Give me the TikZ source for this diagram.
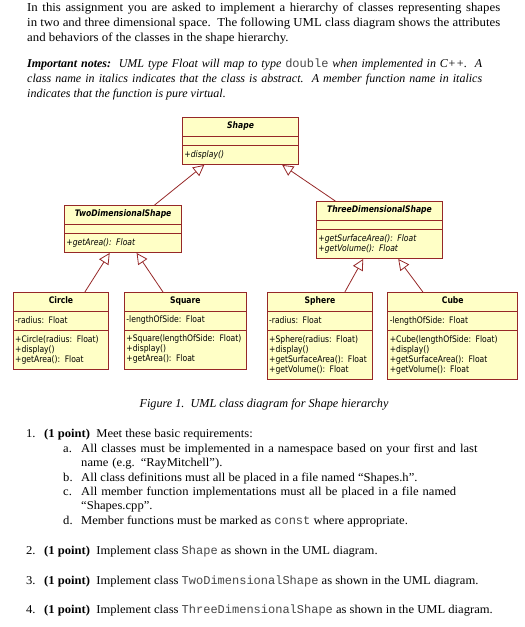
\documentclass[tikz,border=0pt]{standalone}
\usepackage{fontspec}
\setmainfont{Liberation Serif}
\setmonofont{Liberation Mono}
\newfontfamily\listfont{Liberation Serif}[FakeStretch=1.05]
\newfontfamily\umlfont{DejaVu Sans}[FakeStretch=0.85]
\usetikzlibrary{shapes.multipart, arrows.meta, positioning, calc}
\definecolor{umlfill}{RGB}{255, 255, 198}
\definecolor{umlline}{RGB}{150, 40, 40}
\definecolor{codegray}{RGB}{70, 70, 70}
\newcommand{\code}[1]{{\upshape\ttfamily\color{codegray}#1}}
\newcommand{\clsname}[1]{\makebox[\linewidth][c]{\rule[-3.5pt]{0pt}{8.5pt}\textbf{#1}}}

\begin{document}
\begin{tikzpicture}[x=1pt, y=-1pt,
  cls/.style={rectangle split, rectangle split parts=3, draw=umlline, fill=umlfill,
    line width=0.9pt, inner xsep=2pt, inner ysep=4pt, anchor=north west, align=left,
    font=\umlfont\fontsize{9}{10}\selectfont, rectangle split empty part height=0pt},
  gen/.style={-{Triangle[open, length=11pt, width=11pt, fill=white]}, umlline, line width=0.8pt},
  txt/.style={anchor=base west, inner sep=0pt, align=left, font=\listfont\fontsize{12}{14.3}\selectfont}
]
  \useasboundingbox (0,0) rectangle (525,627);

  % text above the diagram
  \node[txt, text width=473pt, align=justify, font=\listfont\fontsize{12.2}{15}\selectfont] (intro) at (27,11)
    {In this assignment you are asked to implement a hierarchy of classes representing shapes\linebreak
     in two and three dimensional space.\ \ The following UML class diagram shows the attributes\linebreak
     and behaviors of the classes in the shape hierarchy.};
  \node[txt, text width=455pt, align=justify, font=\rmfamily\itshape\fontsize{12}{15}\selectfont] (notes) at (27,67)
    {\textbf{Important notes:}\ \ UML type Float will map to type \code{double} when implemented in C++.\ \ A\linebreak
     class name in italics indicates that the class is abstract.\ \ A member function name in italics\linebreak
     indicates that the function is pure virtual.};

  % class boxes
  \node[cls, text width=112.3pt] (shape) at (182,117)
    {\clsname{\textit{Shape}}
     \nodepart{two}
     \nodepart{three}\strut\textit{+display()}\strut};
  \node[cls, text width=113.4pt] (twod) at (64,205)
    {\clsname{\textit{TwoDimensionalShape}}
     \nodepart{two}
     \nodepart{three}\strut\textit{+getArea(): Float}\strut};
  \node[cls, text width=122pt] (threed) at (316,201)
    {\clsname{\textit{ThreeDimensionalShape}}
     \nodepart{two}
     \nodepart{three}\strut\textit{+getSurfaceArea(): Float}\\\textit{+getVolume(): Float}\strut};
  \node[cls, text width=91.6pt] (circle) at (12.7,292)
    {\clsname{Circle}
     \nodepart{two}\strut-radius: Float\strut
     \nodepart{three}\strut+Circle(radius: Float)\\+display()\\+getArea(): Float\strut};
  \node[cls, text width=117.7pt] (square) at (124,292)
    {\clsname{Square}
     \nodepart{two}\strut-lengthOfSide: Float\strut
     \nodepart{three}\strut+Square(lengthOfSide: Float)\\+display()\\+getArea(): Float\strut};
  \node[cls, text width=101.6pt] (sphere) at (266.7,292)
    {\clsname{Sphere}
     \nodepart{two}\strut-radius: Float\strut
     \nodepart{three}\strut+Sphere(radius: Float)\\+display()\\+getSurfaceArea(): Float\\+getVolume(): Float\strut};
  \node[cls, text width=126pt] (cube) at (387.3,292)
    {\clsname{Cube}
     \nodepart{two}\strut-lengthOfSide: Float\strut
     \nodepart{three}\strut+Cube(lengthOfSide: Float)\\+display()\\+getSurfaceArea(): Float\\+getVolume(): Float\strut};

  % generalizations
  \draw[gen] ($(twod.north west)!0.766!(twod.north east)$) -- ($(shape.south west)!0.19!(shape.south east)$);
  \draw[gen] ($(threed.north west)!0.152!(threed.north east)$) -- ($(shape.south west)!0.855!(shape.south east)$);
  \draw[gen] ($(circle.north west)!0.748!(circle.north east)$) -- ($(twod.south west)!0.386!(twod.south east)$);
  \draw[gen] ($(square.north west)!0.318!(square.north east)$) -- ($(twod.south west)!0.614!(twod.south east)$);
  \draw[gen] ($(sphere.north west)!0.734!(sphere.north east)$) -- ($(threed.south west)!0.372!(threed.south east)$);
  \draw[gen] ($(cube.north west)!0.272!(cube.north east)$) -- ($(threed.south west)!0.648!(threed.south east)$);

  \node[anchor=base, inner sep=0pt, font=\itshape\fontsize{12.2}{14}\selectfont] (caption) at (264,407)
    {Figure 1.\ \ UML class diagram for Shape hierarchy};

  % requirements list
  \node[txt] (n1) at (26,437) {1.};
  \node[txt] (t1) at (44,437) {\textbf{(1 point)}\ \ Meet these basic requirements:};
  \node[txt] (la) at (63,452) {a.};
  \node[txt, text width=440pt] (ta) at (81,452)
    {All classes must be implemented in a namespace based on your first and last\\name (e.g. “RayMitchell”).};
  \node[txt] (lb) at (63,481) {b.};
  \node[txt] (tb) at (81,481) {All class definitions must all be placed in a file named “Shapes.h”.};
  \node[txt] (lc) at (63,495) {c.};
  \node[txt, text width=440pt] (tc) at (81,495)
    {All member function implementations must all be placed in a file named\\“Shapes.cpp”.};
  \node[txt] (ld) at (63,524) {d.};
  \node[txt] (td) at (81,524) {Member functions must be marked as \code{const} where appropriate.};
  \node[txt] (n2) at (26,554) {2.};
  \node[txt] (t2) at (44,554) {\textbf{(1 point)}\ \ Implement class \code{Shape} as shown in the UML diagram.};
  \node[txt] (n3) at (26,584) {3.};
  \node[txt] (t3) at (44,584) {\textbf{(1 point)}\ \ Implement class \code{TwoDimensionalShape} as shown in the UML diagram.};
  \node[txt] (n4) at (26,613) {4.};
  \node[txt] (t4) at (44,613) {\textbf{(1 point)}\ \ Implement class \code{ThreeDimensionalShape} as shown in the UML diagram.};
\end{tikzpicture}
\end{document}
